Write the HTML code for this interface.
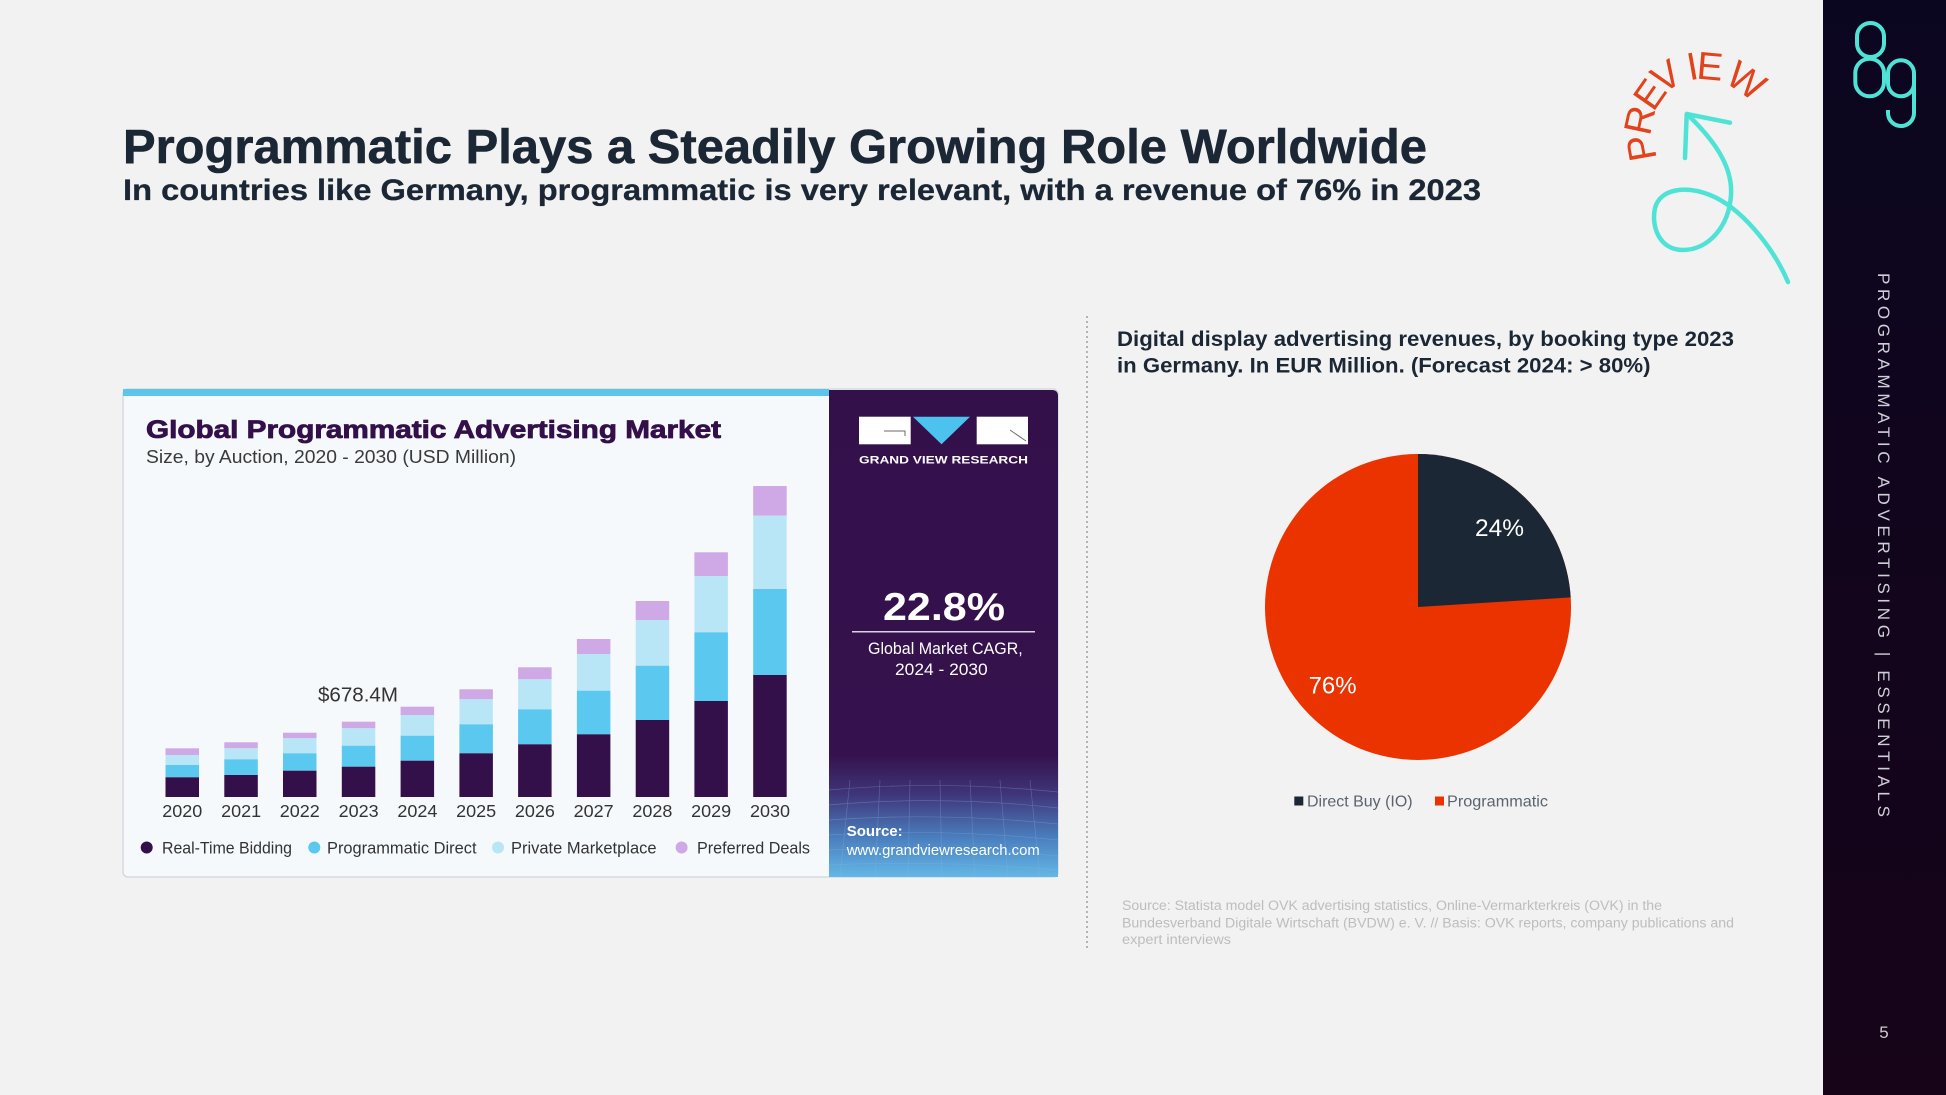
<!DOCTYPE html>
<html>
<head>
<meta charset="utf-8">
<style>
  html,body{margin:0;padding:0;background:#f2f2f2;}
  svg{display:block;font-family:"Liberation Sans",Arial,sans-serif;}
</style>
</head>
<body>
<svg width="1946" height="1095" viewBox="0 0 1946 1095" xmlns="http://www.w3.org/2000/svg">
  <defs>
    <linearGradient id="side" x1="0" y1="0" x2="0" y2="1">
      <stop offset="0" stop-color="#0b0620"/>
      <stop offset="1" stop-color="#170419"/>
    </linearGradient>
    <linearGradient id="panel" x1="0" y1="390" x2="0" y2="877" gradientUnits="userSpaceOnUse">
      <stop offset="0" stop-color="#34104b"/>
      <stop offset="0.75" stop-color="#35124d"/>
      <stop offset="0.83" stop-color="#3f3579"/>
      <stop offset="0.92" stop-color="#4a7fbe"/>
      <stop offset="1" stop-color="#63b7e6"/>
    </linearGradient>
  </defs>

  <rect width="1946" height="1095" fill="#f2f2f2"/>

  <!-- Header -->
  <text x="123" y="163" font-size="48" font-weight="bold" fill="#1b2735" stroke="#1b2735" stroke-width="0.6" textLength="1304" lengthAdjust="spacingAndGlyphs">Programmatic Plays a Steadily Growing Role Worldwide</text>
  <text x="123" y="200" font-size="30" font-weight="bold" fill="#1b2735" stroke="#1b2735" stroke-width="0.3" textLength="1358" lengthAdjust="spacingAndGlyphs">In countries like Germany, programmatic is very relevant, with a revenue of 76% in 2023</text>

  <!-- Bar chart card -->
  <rect x="123" y="389" width="935" height="488" rx="5" fill="#f6f9fc" stroke="#d6dadf" stroke-width="1.5"/>
  <rect x="123" y="389" width="706" height="7" fill="#5bc5ea"/>
  <path d="M829,390 H1052 Q1058,390 1058,396 V877 H829 Z" fill="url(#panel)"/>

  <text x="146" y="438" font-size="25" font-weight="bold" fill="#33104a" stroke="#33104a" stroke-width="0.8" textLength="575" lengthAdjust="spacingAndGlyphs">Global Programmatic Advertising Market</text>
  <text x="146" y="463" font-size="18" fill="#3a3a3a" textLength="370" lengthAdjust="spacingAndGlyphs">Size, by Auction, 2020 - 2030 (USD Million)</text>

  <!-- Bars -->
  <g>
    <rect x="165.5" y="748.3" width="33.5" height="6.7" fill="#cfa8e6"/>
    <rect x="165.5" y="755" width="33.5" height="10" fill="#b9e6f7"/>
    <rect x="165.5" y="765" width="33.5" height="12.3" fill="#5bc8ef"/>
    <rect x="165.5" y="777.3" width="33.5" height="19.7" fill="#33104a"/>
    <rect x="224.3" y="742.3" width="33.5" height="6" fill="#cfa8e6"/>
    <rect x="224.3" y="748.3" width="33.5" height="11" fill="#b9e6f7"/>
    <rect x="224.3" y="759.3" width="33.5" height="15.7" fill="#5bc8ef"/>
    <rect x="224.3" y="775" width="33.5" height="22" fill="#33104a"/>
    <rect x="283" y="732.7" width="33.5" height="5.6" fill="#cfa8e6"/>
    <rect x="283" y="738.3" width="33.5" height="15" fill="#b9e6f7"/>
    <rect x="283" y="753.3" width="33.5" height="17.4" fill="#5bc8ef"/>
    <rect x="283" y="770.7" width="33.5" height="26.3" fill="#33104a"/>
    <rect x="341.8" y="721.7" width="33.5" height="6.6" fill="#cfa8e6"/>
    <rect x="341.8" y="728.3" width="33.5" height="17.4" fill="#b9e6f7"/>
    <rect x="341.8" y="745.7" width="33.5" height="21" fill="#5bc8ef"/>
    <rect x="341.8" y="766.7" width="33.5" height="30.3" fill="#33104a"/>
    <rect x="400.6" y="706.7" width="33.5" height="8.3" fill="#cfa8e6"/>
    <rect x="400.6" y="715" width="33.5" height="20.7" fill="#b9e6f7"/>
    <rect x="400.6" y="735.7" width="33.5" height="25" fill="#5bc8ef"/>
    <rect x="400.6" y="760.7" width="33.5" height="36.3" fill="#33104a"/>
    <rect x="459.4" y="689.3" width="33.5" height="10" fill="#cfa8e6"/>
    <rect x="459.4" y="699.3" width="33.5" height="25" fill="#b9e6f7"/>
    <rect x="459.4" y="724.3" width="33.5" height="29" fill="#5bc8ef"/>
    <rect x="459.4" y="753.3" width="33.5" height="43.7" fill="#33104a"/>
    <rect x="518.1" y="667.3" width="33.5" height="12" fill="#cfa8e6"/>
    <rect x="518.1" y="679.3" width="33.5" height="30" fill="#b9e6f7"/>
    <rect x="518.1" y="709.3" width="33.5" height="35" fill="#5bc8ef"/>
    <rect x="518.1" y="744.3" width="33.5" height="52.7" fill="#33104a"/>
    <rect x="576.9" y="639" width="33.5" height="15" fill="#cfa8e6"/>
    <rect x="576.9" y="654" width="33.5" height="36.7" fill="#b9e6f7"/>
    <rect x="576.9" y="690.7" width="33.5" height="43.6" fill="#5bc8ef"/>
    <rect x="576.9" y="734.3" width="33.5" height="62.7" fill="#33104a"/>
    <rect x="635.7" y="601" width="33.5" height="19" fill="#cfa8e6"/>
    <rect x="635.7" y="620" width="33.5" height="45.7" fill="#b9e6f7"/>
    <rect x="635.7" y="665.7" width="33.5" height="54.3" fill="#5bc8ef"/>
    <rect x="635.7" y="720" width="33.5" height="77" fill="#33104a"/>
    <rect x="694.4" y="552.3" width="33.5" height="23.7" fill="#cfa8e6"/>
    <rect x="694.4" y="576" width="33.5" height="56.3" fill="#b9e6f7"/>
    <rect x="694.4" y="632.3" width="33.5" height="68.7" fill="#5bc8ef"/>
    <rect x="694.4" y="701" width="33.5" height="96" fill="#33104a"/>
    <rect x="753.2" y="486" width="33.5" height="29.7" fill="#cfa8e6"/>
    <rect x="753.2" y="515.7" width="33.5" height="73.3" fill="#b9e6f7"/>
    <rect x="753.2" y="589" width="33.5" height="86" fill="#5bc8ef"/>
    <rect x="753.2" y="675" width="33.5" height="122" fill="#33104a"/>
  </g>

  <text x="318" y="701.7" font-size="20" fill="#333333" textLength="80" lengthAdjust="spacingAndGlyphs">$678.4M</text>

  <g font-size="17.5" fill="#333333" text-anchor="middle">
    <text x="182.3" y="817" textLength="40" lengthAdjust="spacingAndGlyphs">2020</text>
    <text x="241.1" y="817" textLength="40" lengthAdjust="spacingAndGlyphs">2021</text>
    <text x="299.8" y="817" textLength="40" lengthAdjust="spacingAndGlyphs">2022</text>
    <text x="358.6" y="817" textLength="40" lengthAdjust="spacingAndGlyphs">2023</text>
    <text x="417.4" y="817" textLength="40" lengthAdjust="spacingAndGlyphs">2024</text>
    <text x="476.1" y="817" textLength="40" lengthAdjust="spacingAndGlyphs">2025</text>
    <text x="534.9" y="817" textLength="40" lengthAdjust="spacingAndGlyphs">2026</text>
    <text x="593.7" y="817" textLength="40" lengthAdjust="spacingAndGlyphs">2027</text>
    <text x="652.4" y="817" textLength="40" lengthAdjust="spacingAndGlyphs">2028</text>
    <text x="711.2" y="817" textLength="40" lengthAdjust="spacingAndGlyphs">2029</text>
    <text x="770" y="817" textLength="40" lengthAdjust="spacingAndGlyphs">2030</text>
  </g>

  <!-- Bar legend -->
  <circle cx="146.7" cy="847.5" r="6" fill="#33104a"/>
  <circle cx="314.3" cy="847.5" r="6" fill="#5bc8ef"/>
  <circle cx="498" cy="847.5" r="6" fill="#b9e6f7"/>
  <circle cx="681.6" cy="847.5" r="6" fill="#cfa8e6"/>
  <g font-size="17" fill="#333333">
    <text x="162" y="853.5" textLength="130" lengthAdjust="spacingAndGlyphs">Real-Time Bidding</text>
    <text x="327" y="853.5" textLength="149.5" lengthAdjust="spacingAndGlyphs">Programmatic Direct</text>
    <text x="511" y="853.5" textLength="145.5" lengthAdjust="spacingAndGlyphs">Private Marketplace</text>
    <text x="697" y="853.5" textLength="113" lengthAdjust="spacingAndGlyphs">Preferred Deals</text>
  </g>

  <!-- Purple panel content -->
  <rect x="859" y="416.7" width="51.7" height="27.6" fill="#ffffff"/>
  <path d="M884,431 H905 V436" fill="none" stroke="#6a6a6a" stroke-width="1"/>
  <polygon points="913,416.7 970,416.7 941.5,444.3" fill="#4cc3ee"/>
  <rect x="976.7" y="416.7" width="51.3" height="27.6" fill="#ffffff"/>
  <path d="M1010,430 L1026,441" fill="none" stroke="#6a6a6a" stroke-width="1"/>
  <text x="859" y="463.3" font-size="11" font-weight="bold" fill="#ffffff" textLength="169" lengthAdjust="spacingAndGlyphs">GRAND VIEW RESEARCH</text>

  <text x="883" y="620" font-size="39" font-weight="bold" fill="#ffffff" textLength="122" lengthAdjust="spacingAndGlyphs">22.8%</text>
  <line x1="852" y1="631.7" x2="1035" y2="631.7" stroke="#d9d2e2" stroke-width="1.5"/>
  <text x="868" y="654" font-size="16.5" fill="#ffffff" textLength="154.7" lengthAdjust="spacingAndGlyphs">Global Market CAGR,</text>
  <text x="895" y="675" font-size="16.5" fill="#ffffff" textLength="92.7" lengthAdjust="spacingAndGlyphs">2024 - 2030</text>

  <g stroke="#8fb3e0" stroke-width="0.7" opacity="0.35" fill="none">
    <path d="M829,790 Q940,780 1058,792"/>
    <path d="M829,805 Q940,795 1058,808"/>
    <path d="M829,820 Q940,812 1058,824"/>
    <path d="M829,835 Q940,828 1058,840"/>
    <path d="M829,850 Q940,845 1058,856"/>
    <path d="M829,865 Q940,860 1058,870"/>
    <path d="M850,780 L840,877 M880,780 L875,877 M910,780 L908,877 M940,780 L942,877 M970,780 L975,877 M1000,780 L1008,877 M1030,780 L1040,877"/>
  </g>
  <text x="846.7" y="836" font-size="15" font-weight="bold" fill="#ffffff" textLength="56" lengthAdjust="spacingAndGlyphs">Source:</text>
  <text x="846.7" y="855" font-size="15" fill="#ffffff" textLength="193" lengthAdjust="spacingAndGlyphs">www.grandviewresearch.com</text>

  <!-- Dotted separator -->
  <line x1="1087" y1="316" x2="1087" y2="949" stroke="#b3b3b3" stroke-width="2" stroke-dasharray="2,3"/>

  <!-- Pie section -->
  <text x="1117" y="346" font-size="21.5" font-weight="bold" fill="#1b2735" textLength="617" lengthAdjust="spacingAndGlyphs">Digital display advertising revenues, by booking type 2023</text>
  <text x="1117" y="372.7" font-size="21.5" font-weight="bold" fill="#1b2735" textLength="533.5" lengthAdjust="spacingAndGlyphs">in Germany. In EUR Million. (Forecast 2024: &gt; 80%)</text>

  <circle cx="1418" cy="607" r="153" fill="#eb3300"/>
  <path d="M1418,607 L1418,454 A153,153 0 0 1 1570.7,597.4 Z" fill="#1b2735"/>
  <text x="1475" y="536" font-size="24" fill="#ffffff" textLength="49" lengthAdjust="spacingAndGlyphs">24%</text>
  <text x="1308.6" y="693.3" font-size="24" fill="#ffffff" textLength="48" lengthAdjust="spacingAndGlyphs">76%</text>

  <rect x="1294.3" y="796.5" width="9" height="9" fill="#1b2735"/>
  <text x="1307" y="806.5" font-size="16" fill="#5a6470" textLength="105.6" lengthAdjust="spacingAndGlyphs">Direct Buy (IO)</text>
  <rect x="1435" y="796.5" width="9" height="9" fill="#eb3300"/>
  <text x="1447" y="806.5" font-size="16" fill="#5a6470" textLength="101" lengthAdjust="spacingAndGlyphs">Programmatic</text>

  <g font-size="13.5" fill="#bdbdbd">
    <text x="1122" y="910" textLength="540" lengthAdjust="spacingAndGlyphs">Source: Statista model OVK advertising statistics, Online-Vermarkterkreis (OVK) in the</text>
    <text x="1122" y="927.3" textLength="612" lengthAdjust="spacingAndGlyphs">Bundesverband Digitale Wirtschaft (BVDW) e. V. // Basis: OVK reports, company publications and</text>
    <text x="1122" y="944" textLength="109" lengthAdjust="spacingAndGlyphs">expert interviews</text>
  </g>

  <!-- PREVIEW arc + arrow -->
  <g font-size="39" fill="#e2421c" text-anchor="middle">
    <text transform="translate(1640.7,148.3) rotate(-100)" y="14">P</text>
    <text transform="translate(1639,120) rotate(-78)" y="14">R</text>
    <text transform="translate(1649.3,94) rotate(-55)" y="14">E</text>
    <text transform="translate(1665.7,75.7) rotate(-33.5)" y="14">V</text>
    <text transform="translate(1692.3,65.7) rotate(-10)" y="14">I</text>
    <text transform="translate(1710,65.7) rotate(5)" y="14">E</text>
    <text transform="translate(1746.7,80) rotate(34)" y="14">W</text>
  </g>
  <g fill="none" stroke="#4fe3d5" stroke-width="4.5" stroke-linecap="round" stroke-linejoin="round">
    <path d="M1685,158 L1686.7,114 L1730,122.7"/>
    <path d="M1687,114 C1712,138 1733,165 1731,195 C1729,227 1708,250 1683,250 C1659,250 1651,226 1655,208 C1660,189 1685,185 1710,195 C1740,207 1772,245 1788,282"/>
  </g>

  <!-- Sidebar -->
  <rect x="1823" y="0" width="123" height="1095" fill="url(#side)"/>
  <g fill="none" stroke="#4fe3d5" stroke-width="4">
    <rect x="1857" y="23" width="27" height="34" rx="13.5"/>
    <rect x="1855.3" y="58.7" width="28.7" height="37.6" rx="14.3"/>
    <rect x="1888" y="60.3" width="26" height="36" rx="13"/>
    <path d="M1914,78 V113 A13,13 0 0 1 1888,113 V110"/>
  </g>
  <text transform="translate(1878,273) rotate(90)" font-size="17" fill="#cfcfd8" textLength="544" lengthAdjust="spacing">PROGRAMMATIC ADVERTISING | ESSENTIALS</text>
  <text x="1884" y="1038" font-size="17" fill="#cccccc" text-anchor="middle">5</text>
</svg>
</body>
</html>
